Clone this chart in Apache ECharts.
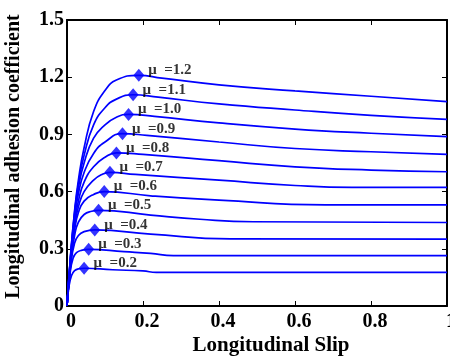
<!DOCTYPE html>
<html>
<head>
<meta charset="utf-8">
<script src="https://cdn.jsdelivr.net/npm/echarts@6/dist/echarts.min.js"></script>
<style>
  html, body { margin: 0; padding: 0; background: #fff; }
  #chart { width: 450px; height: 356px; }
</style>
</head>
<body>
<div id="chart"></div>
<script>
// Adhesion curves: [slip, coefficient] pairs for each road friction level
const mu02 = [[0,0],[0.005,0.1],[0.012,0.16],[0.02,0.185],[0.03,0.195],[0.045,0.198],[0.12,0.19],[0.2,0.184],[0.235,0.176],[1.0,0.176]];
const mu03 = [[0,0],[0.008,0.17],[0.016,0.25],[0.025,0.28],[0.04,0.293],[0.057,0.297],[0.15,0.285],[0.22,0.276],[0.28,0.264],[1.0,0.264]];
const mu04 = [[0,0],[0.01,0.22],[0.02,0.33],[0.03,0.37],[0.045,0.39],[0.073,0.399],[0.22,0.377],[0.43,0.352],[1.0,0.351]];
const mu05 = [[0,0],[0.01,0.23],[0.02,0.37],[0.03,0.44],[0.045,0.48],[0.065,0.497],[0.083,0.502],[0.22,0.477],[0.35,0.455],[0.49,0.442],[1.0,0.438]];
const mu06 = [[0,0],[0.01,0.24],[0.02,0.4],[0.03,0.49],[0.045,0.55],[0.07,0.585],[0.098,0.6],[0.22,0.578],[0.4,0.555],[0.68,0.53],[1.0,0.53]];
const mu07 = [[0,0],[0.01,0.25],[0.02,0.42],[0.03,0.52],[0.045,0.6],[0.07,0.66],[0.09,0.688],[0.113,0.701],[0.18,0.69],[0.4,0.66],[0.6,0.632],[0.75,0.622],[1.0,0.622]];
const mu08 = [[0,0],[0.01,0.26],[0.02,0.44],[0.03,0.55],[0.045,0.65],[0.07,0.73],[0.1,0.78],[0.13,0.803],[0.2,0.795],[0.4,0.762],[0.6,0.73],[0.8,0.713],[1.0,0.704]];
const mu09 = [[0,0],[0.01,0.27],[0.02,0.46],[0.03,0.59],[0.045,0.7],[0.07,0.8],[0.1,0.86],[0.146,0.904],[0.21,0.895],[0.4,0.86],[0.6,0.826],[0.8,0.809],[1.0,0.795]];
const mu10 = [[0,0],[0.01,0.27],[0.02,0.48],[0.03,0.62],[0.045,0.75],[0.07,0.88],[0.1,0.95],[0.13,0.99],[0.162,1.005],[0.23,0.995],[0.4,0.96],[0.6,0.928],[0.8,0.906],[1.0,0.888]];
const mu11 = [[0,0],[0.01,0.28],[0.02,0.49],[0.03,0.64],[0.045,0.79],[0.07,0.95],[0.1,1.04],[0.13,1.085],[0.174,1.108],[0.24,1.095],[0.4,1.06],[0.6,1.028],[0.8,1.0],[1.0,0.979]];
const mu12 = [[0,0],[0.01,0.28],[0.02,0.5],[0.03,0.66],[0.045,0.83],[0.07,1.02],[0.1,1.13],[0.13,1.185],[0.189,1.21],[0.25,1.195],[0.4,1.16],[0.6,1.128],[0.8,1.1],[1.0,1.072]];

// Peak of each curve, marked with a diamond and its friction label
const peakLabels = ['μ  =0.2','μ  =0.3','μ  =0.4','μ  =0.5','μ  =0.6','μ  =0.7','μ  =0.8','μ  =0.9','μ  =1.0','μ  =1.1','μ  =1.2'];
const peakSlip   = [0.045, 0.057, 0.073, 0.083, 0.098, 0.113, 0.13, 0.146, 0.162, 0.174, 0.189];
const peakValue  = [0.198, 0.297, 0.399, 0.502, 0.6, 0.701, 0.803, 0.904, 1.005, 1.108, 1.21];

const xTickLabels = ['0','0.2','0.4','0.6','0.8','1'];
const yTickLabels = ['0','0.3','0.6','0.9','1.2','1.5'];

const curves = [mu02, mu03, mu04, mu05, mu06, mu07, mu08, mu09, mu10, mu11, mu12];
const blue = '#0000ff';
const serif = '"Liberation Serif", "Times New Roman", serif';

const series = curves.map(d => ({
  type: 'line',
  data: d,
  showSymbol: false,
  smooth: 0.5,
  lineStyle: { color: blue, width: 1.7 },
  silent: true,
  z: 2
}));

series.push({
  type: 'scatter',
  symbol: 'diamond',
  symbolSize: [11, 13],
  itemStyle: { color: blue },
  data: peakSlip.map((s, i) => [s, peakValue[i]]),
  label: {
    show: true,
    position: 'right',
    distance: 4,
    offset: [0, -5],
    formatter: p => peakLabels[p.dataIndex],
    fontFamily: serif,
    fontWeight: 'bold',
    fontSize: 15,
    color: '#000'
  },
  z: 3
});

const tickFmt = (labels, step) => v => labels[Math.round(v / step)];

const frameAxis = {
  axisLine: { show: true, onZero: false, lineStyle: { color: '#000', width: 2 } },
  axisTick: { show: true, inside: true, length: 5, lineStyle: { color: '#000', width: 1 } },
  splitLine: { show: false }
};

const labelFont = { fontFamily: serif, fontWeight: 'bold', fontSize: 20, color: '#000' };

const chart = echarts.init(document.getElementById('chart'), null, { renderer: 'canvas' });
chart.setOption({
  animation: false,
  backgroundColor: '#fff',
  grid: { left: 67, right: 3, top: 20, bottom: 50, outerBoundsMode: 'none', containLabel: false },
  xAxis: [
    Object.assign({
      type: 'value', min: 0, max: 1, interval: 0.2, position: 'bottom',
      name: 'Longitudinal Slip', nameLocation: 'middle', nameGap: 29, nameMoveOverlap: false,
      nameTextStyle: { fontFamily: serif, fontWeight: 'bold', color: '#000', fontSize: 21, padding: [0, 0, 0, 28] },
      axisLabel: Object.assign({ formatter: tickFmt(xTickLabels, 0.2), margin: 6, padding: [0, 0, 0, 8] }, labelFont)
    }, frameAxis),
    Object.assign({
      type: 'value', min: 0, max: 1, interval: 0.2, position: 'top',
      axisLabel: { show: false }
    }, frameAxis)
  ],
  yAxis: [
    Object.assign({
      type: 'value', min: 0, max: 1.5, interval: 0.3, position: 'left',
      name: 'Longitudinal adhesion coefficient', nameLocation: 'middle', nameGap: 43, nameMoveOverlap: false,
      nameTextStyle: { fontFamily: serif, fontWeight: 'bold', fontSize: 20, color: '#000', padding: [0, 0, 0, 13] },
      axisLabel: Object.assign({ formatter: tickFmt(yTickLabels, 0.3), margin: 3 }, labelFont)
    }, frameAxis),
    Object.assign({
      type: 'value', min: 0, max: 1.5, interval: 0.3, position: 'right',
      axisLabel: { show: false }
    }, frameAxis)
  ],
  series: series
});
</script>
</body>
</html>
